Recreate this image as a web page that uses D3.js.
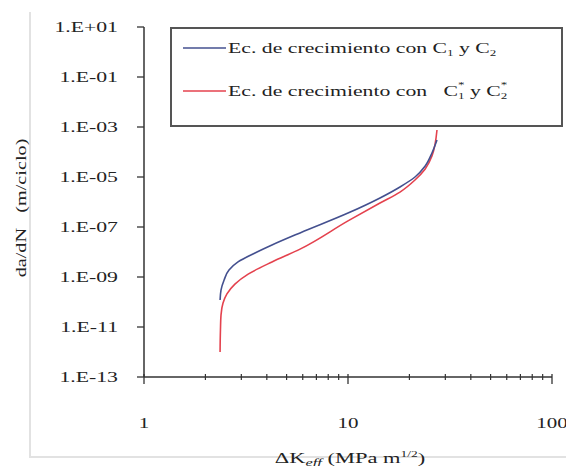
<!DOCTYPE html>
<html>
<head>
<meta charset="utf-8">
<script src="https://cdn.jsdelivr.net/npm/d3@7"></script>
<style>
  body { margin: 0; background: #fff; }
  text { font-family: "Liberation Serif", "DejaVu Serif", serif; fill: #222; }
</style>
</head>
<body>
<div id="chart"></div>
<script>
// values
var blueK   = [2.36, 2.385, 2.47, 2.61, 2.89, 3.50, 4.24, 5.82, 10, 14.35, 17.98, 21.3, 23.9, 25.8, 27.3];
var blueDa  = [1.2e-10, 3.0e-10, 7.6e-10, 1.9e-9, 4.0e-9, 9.1e-9, 1.9e-8, 5.8e-8, 3.6e-7, 1.45e-6, 4.0e-6, 1.0e-5, 2.75e-5, 9.1e-5, 3.0e-4];
var redK    = [2.36, 2.37, 2.385, 2.44, 2.55, 2.79, 3.24, 4.24, 5.82, 10, 14.35, 17.98, 21.3, 23.9, 25.8, 27.3];
var redDa   = [1.0e-12, 7.6e-12, 3.0e-11, 9.1e-11, 2.1e-10, 5.2e-10, 1.3e-9, 4.0e-9, 1.3e-8, 1.75e-7, 9.1e-7, 2.5e-6, 7.6e-6, 2.1e-5, 6.9e-5, 7.6e-4];
var yTicks  = [1e1, 1e-1, 1e-3, 1e-5, 1e-7, 1e-9, 1e-11, 1e-13];
var yLabels = ["1.E+01", "1.E-01", "1.E-03", "1.E-05", "1.E-07", "1.E-09", "1.E-11", "1.E-13"];
var xTicks  = [1, 10, 100];

var width = 566, height = 466;
var blue = "#44508f", red = "#e4424e";

var svg = d3.select("#chart").append("svg")
    .attr("width", width)
    .attr("height", height);

var x = d3.scaleLog().domain([1, 100]).range([144, 552]);
var y = d3.scaleLog().domain([1e-13, 1e1]).range([377, 27]);

// the source text is stretched sideways, so text gets a horizontal scale
function stretched(px, py, sx, anchor) {
  return svg.append("text")
    .attr("transform", "translate(" + px + "," + py + ") scale(" + sx + ",1)")
    .attr("text-anchor", anchor || "start")
    .style("font-size", "15px");
}

// faint frame of the pasted picture
svg.append("path")
  .attr("d", "M30,12V457H566")
  .attr("fill", "none")
  .attr("stroke", "#e2e2e2")
  .attr("stroke-width", 2);

// y axis
svg.append("line")
  .attr("x1", 144).attr("x2", 144)
  .attr("y1", y(1e1)).attr("y2", y(1e-13))
  .attr("stroke", "#333").attr("stroke-width", 1.5);
yTicks.forEach(function(t, i) {
  svg.append("line")
    .attr("x1", 137).attr("x2", 144)
    .attr("y1", y(t)).attr("y2", y(t))
    .attr("stroke", "#333").attr("stroke-width", 1.3);
  stretched(118, y(t) + 5, 1.45, "end").text(yLabels[i]);
});

// x axis
svg.append("line")
  .attr("x1", x(1)).attr("x2", x(100))
  .attr("y1", 377).attr("y2", 377)
  .attr("stroke", "#333").attr("stroke-width", 1.5);
var minor = [];
[1, 10].forEach(function(d) { for (var k = 2; k <= 9; k++) minor.push(d * k); });
minor.forEach(function(t) {
  svg.append("line")
    .attr("x1", x(t)).attr("x2", x(t))
    .attr("y1", 374).attr("y2", 380)
    .attr("stroke", "#333").attr("stroke-width", 1.2);
});
xTicks.forEach(function(t) {
  svg.append("line")
    .attr("x1", x(t)).attr("x2", x(t))
    .attr("y1", 374).attr("y2", 384)
    .attr("stroke", "#333").attr("stroke-width", 1.3);
  stretched(x(t), 428, 1.4, "middle").text(t);
});

// curves
var line = d3.line()
  .x(function(d) { return x(d[0]); })
  .y(function(d) { return y(d[1]); })
  .curve(d3.curveMonotoneY);

svg.append("path")
  .datum(d3.zip(redK, redDa))
  .attr("d", line)
  .attr("fill", "none")
  .attr("stroke", red)
  .attr("stroke-width", 1.6);
svg.append("path")
  .datum(d3.zip(blueK, blueDa))
  .attr("d", line)
  .attr("fill", "none")
  .attr("stroke", blue)
  .attr("stroke-width", 1.6);

// legend
svg.append("rect")
  .attr("x", 171).attr("y", 28)
  .attr("width", 391).attr("height", 98)
  .attr("fill", "#fff")
  .attr("stroke", "#555").attr("stroke-width", 2);
svg.append("line")
  .attr("x1", 183).attr("x2", 226).attr("y1", 48).attr("y2", 48)
  .attr("stroke", blue).attr("stroke-width", 1.6);
svg.append("line")
  .attr("x1", 183).attr("x2", 226).attr("y1", 91).attr("y2", 91)
  .attr("stroke", red).attr("stroke-width", 1.6);

var l1 = stretched(228, 53, 1.45);
l1.append("tspan").text("Ec. de crecimiento con C");
l1.append("tspan").attr("dy", 3).style("font-size", "9px").text("1");
l1.append("tspan").attr("dy", -3).text(" y C");
l1.append("tspan").attr("dy", 3).style("font-size", "9px").text("2");

var l2 = stretched(228, 96, 1.45);
l2.append("tspan").text("Ec. de crecimiento con \u00a0\u00a0C");
l2.append("tspan").attr("dy", -8).style("font-size", "9px").text("*");
l2.append("tspan").attr("dx", -4.5).attr("dy", 11).style("font-size", "9px").text("1");
l2.append("tspan").attr("dy", -3).text(" y C");
l2.append("tspan").attr("dy", -8).style("font-size", "9px").text("*");
l2.append("tspan").attr("dx", -4.5).attr("dy", 11).style("font-size", "9px").text("2");

// axis titles
var xt = stretched(350, 463, 1.5, "middle");
xt.append("tspan").text("\u0394K");
xt.append("tspan").attr("dy", 3).style("font-size", "11px").style("font-style", "italic").text("eff");
xt.append("tspan").attr("dy", -3).text(" (MPa m");
xt.append("tspan").attr("dy", -6).style("font-size", "9px").text("1/2");
xt.append("tspan").attr("dy", 6).text(")");

svg.append("text")
  .attr("transform", "translate(26,208) rotate(-90) scale(1.35,1)")
  .attr("text-anchor", "middle")
  .style("font-size", "15px")
  .text("da/dN \u00a0\u00a0(m/ciclo)");
</script>
</body>
</html>
